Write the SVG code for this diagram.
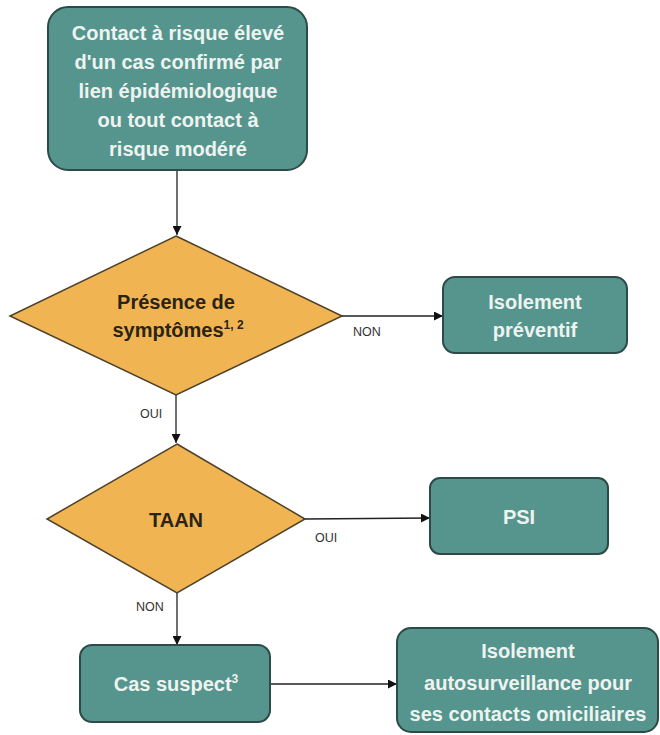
<svg xmlns="http://www.w3.org/2000/svg" width="660" height="735" viewBox="0 0 660 735">
<style>
.box{fill:#55958e;stroke:#2c4a47;stroke-width:2}
.dia{fill:#f0b552;stroke:#4d412b;stroke-width:1.5}
.bt{font-family:"Liberation Sans",Arial,sans-serif;font-weight:bold;font-size:20px;fill:#eef3f0;text-anchor:middle}
.dt{font-family:"Liberation Sans",Arial,sans-serif;font-weight:bold;font-size:20px;fill:#2a2316;text-anchor:middle}
.lb{font-family:"Liberation Sans",Arial,sans-serif;font-size:12.5px;fill:#333}
.ln{stroke:#222;stroke-width:1.3;fill:none}
</style>
<defs>
<marker id="ah" viewBox="0 0 10 10" refX="10" refY="5" markerWidth="9" markerHeight="9" markerUnits="userSpaceOnUse" orient="auto">
<path d="M0,0 L10,5 L0,10 z" fill="#111"/>
</marker>
</defs>
<g id="connectors">
<path class="ln" d="M177,170 L177,235" marker-end="url(#ah)"/>
<path class="ln" d="M342,316 L443,316" marker-end="url(#ah)"/>
<path class="ln" d="M176,395 L176,443" marker-end="url(#ah)"/>
<path class="ln" d="M305,519 L430,518" marker-end="url(#ah)"/>
<path class="ln" d="M177,593 L177,645" marker-end="url(#ah)"/>
<path class="ln" d="M270,684 L397,684" marker-end="url(#ah)"/>
<text class="lb" x="353" y="336">NON</text>
<text class="lb" x="140" y="418">OUI</text>
<text class="lb" x="315" y="542">OUI</text>
<text class="lb" x="136" y="611">NON</text>
</g>
<g id="n1">
<rect class="box" x="48" y="7" width="259" height="163" rx="20"/>
<text class="bt" x="178" y="40">Contact à risque élevé</text>
<text class="bt" x="178" y="69">d'un cas confirmé par</text>
<text class="bt" x="178" y="98">lien épidémiologique</text>
<text class="bt" x="178" y="127">ou tout contact à</text>
<text class="bt" x="178" y="156">risque modéré</text>
</g>
<g id="d1">
<polygon class="dia" points="176,236 342,316 176,395 10,316"/>
<text class="dt" x="176" y="309">Présence de</text>
<text class="dt" x="178" y="337">symptômes<tspan font-size="12" dy="-8">1, 2</tspan></text>
</g>
<g id="n2">
<rect class="box" x="443" y="277" width="184" height="76" rx="12"/>
<text class="bt" x="535" y="309">Isolement</text>
<text class="bt" x="535" y="337">préventif</text>
</g>
<g id="d2">
<polygon class="dia" points="177,444 305,519 177,593 47,519"/>
<text class="dt" x="176" y="527">TAAN</text>
</g>
<g id="n3">
<rect class="box" x="430" y="478" width="178" height="76" rx="10"/>
<text class="bt" x="519" y="524">PSI</text>
</g>
<g id="n4">
<rect class="box" x="80" y="645" width="190" height="77" rx="12"/>
<text class="bt" x="176" y="691">Cas suspect<tspan font-size="12" dy="-8">3</tspan></text>
</g>
<g id="n5">
<rect class="box" x="397" y="628" width="261" height="104" rx="14"/>
<text class="bt" x="528" y="658">Isolement</text>
<text class="bt" x="528" y="690">autosurveillance pour</text>
<text class="bt" x="528" y="721">ses contacts omiciliaires</text>
</g>
</svg>
